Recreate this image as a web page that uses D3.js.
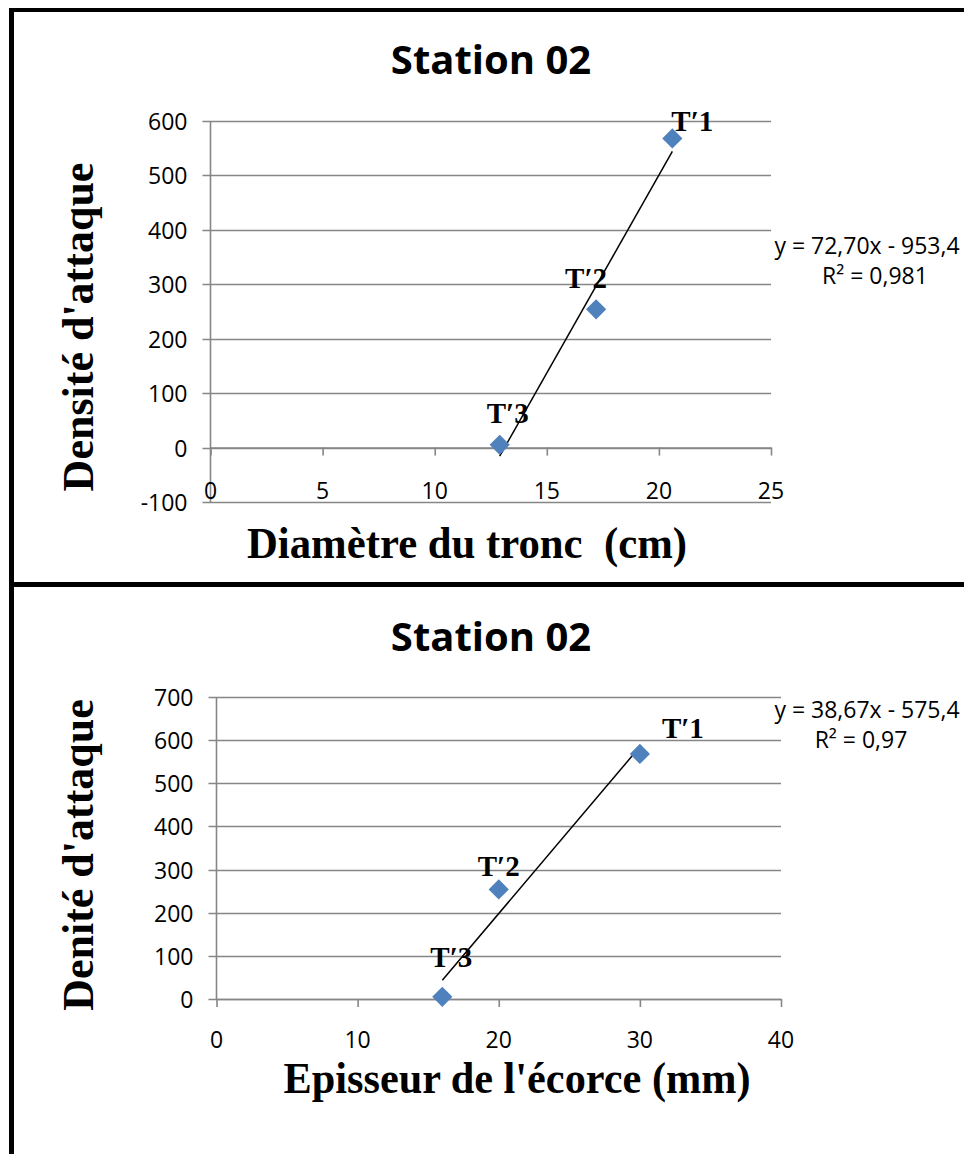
<!DOCTYPE html>
<html><head><meta charset="utf-8">
<script src="https://cdn.jsdelivr.net/npm/d3@7"></script>
<style>body{margin:0;background:#fff}svg{display:block}</style>
</head><body>
<script>
// ---- Data ----
const pointLabels = ["T\u20321", "T\u20322", "T\u20323"];
const density = [568, 254, 5];
const diameter = [20.6, 17.2, 12.9];
const barkThickness = [30, 20, 16];
const chartTitles = ["Station 02", "Station 02"];
const yTitles = ["Densité d'attaque", "Denité d'attaque"];
const xTitles = ["Diamètre du tronc  (cm)", "Episseur de l'écorce (mm)"];
const trendSlopes = [72.70, 38.67];
const trendIntercepts = [-953.4, -575.4];
const trendEquations = ["y = 72,70x - 953,4", "y = 38,67x - 575,4"];
const trendR2 = ["R² = 0,981", "R² = 0,97"];
const xTicks1 = [0, 5, 10, 15, 20, 25];
const yTicks1 = [-100, 0, 100, 200, 300, 400, 500, 600];
const xTicks2 = [0, 10, 20, 30, 40];
const yTicks2 = [0, 100, 200, 300, 400, 500, 600, 700];

const W = 964, H = 1154;
const svg = d3.select("body").append("svg").attr("width", W).attr("height", H);

// frame
const frame = svg.append("g").attr("stroke", "#000").attr("fill", "none");
frame.append("line").attr("x1", 11.5).attr("x2", 11.5).attr("y1", 8).attr("y2", H).attr("stroke-width", 5);
frame.append("line").attr("x1", 9).attr("x2", W).attr("y1", 10).attr("y2", 10).attr("stroke-width", 4);
frame.append("line").attr("x1", 9).attr("x2", W).attr("y1", 584.5).attr("y2", 584.5).attr("stroke-width", 5);

const sansFont = "'Open Sans', 'Liberation Sans', sans-serif";
const serifFont = "'Liberation Serif', 'DejaVu Serif', serif";

function drawChart(cfg) {
  const g = svg.append("g");
  const x = d3.scaleLinear().domain(cfg.xDomain).range(cfg.xRange);
  const y = d3.scaleLinear().domain(cfg.yDomain).range(cfg.yRange);
  const grid = "#868686";

  // horizontal gridlines (with ticks on the left)
  g.append("g").selectAll("line").data(cfg.yTicks).join("line")
    .attr("x1", cfg.xRange[0] - 8).attr("x2", cfg.xRange[1])
    .attr("y1", d => Math.round(y(d)) + 0.5).attr("y2", d => Math.round(y(d)) + 0.5)
    .attr("stroke", grid).attr("stroke-width", 1.6);

  // y axis
  g.append("line").attr("x1", x(0)).attr("x2", x(0))
    .attr("y1", y(cfg.yDomain[1])).attr("y2", y(cfg.yDomain[0]))
    .attr("stroke", grid).attr("stroke-width", 1.6);

  // x axis via d3 axis
  const xa = d3.axisBottom(x).tickValues(cfg.xTicks).tickSize(8).tickSizeOuter(0).tickFormat(d => "");
  const xg = g.append("g").attr("transform", `translate(0,${y(0)})`).call(xa);
  xg.select(".domain").attr("stroke", grid).attr("stroke-width", 1.6);
  xg.selectAll(".tick line").attr("stroke", grid).attr("stroke-width", 1.6);

  // x tick labels
  g.append("g").selectAll("text").data(cfg.xTicks).join("text")
    .attr("x", d => x(d)).attr("y", y(0) + cfg.xLabelOffset)
    .attr("text-anchor", "middle").attr("dominant-baseline", "central")
    .style("font-family", sansFont).style("font-size", "23px").attr("fill", "#000")
    .text(d => d);

  // y tick labels
  g.append("g").selectAll("text").data(cfg.yTicks).join("text")
    .attr("x", cfg.xRange[0] - 23).attr("y", d => y(d))
    .attr("text-anchor", "end").attr("dominant-baseline", "central")
    .style("font-family", sansFont).style("font-size", "23px").attr("fill", "#000")
    .text(d => d);

  // trendline
  const xs = d3.extent(cfg.xs);
  g.append("line")
    .attr("x1", x(xs[0])).attr("y1", y(cfg.slope * xs[0] + cfg.intercept))
    .attr("x2", x(xs[1])).attr("y2", y(cfg.slope * xs[1] + cfg.intercept))
    .attr("stroke", "#000").attr("stroke-width", 1.5);

  // points
  const sym = d3.symbol().type(d3.symbolDiamond2).size(260);
  g.append("g").selectAll("path").data(cfg.xs).join("path")
    .attr("d", sym)
    .attr("transform", (d, i) => `translate(${x(d)},${y(cfg.ys[i])})`)
    .attr("fill", "#4F81BD");

  // point labels
  g.append("g").selectAll("text").data(cfg.xs).join("text")
    .attr("x", (d, i) => x(d) + cfg.labelDx[i]).attr("y", (d, i) => y(cfg.ys[i]) + cfg.labelDy[i])
    .attr("text-anchor", "middle")
    .style("font-family", serifFont).style("font-weight", "bold").style("font-size", "29px")
    .text((d, i) => pointLabels[i]);

  // title
  g.append("text").attr("x", 491).attr("y", cfg.titleY).attr("text-anchor", "middle")
    .style("font-family", sansFont).style("font-weight", "bold").style("font-size", "40px")
    .text(cfg.title);

  // y title
  g.append("text").attr("transform", `translate(${cfg.yTitleX},${cfg.yTitleY}) rotate(-90)`)
    .attr("text-anchor", "middle")
    .style("font-family", serifFont).style("font-weight", "bold").style("font-size", "44px")
    .text(cfg.yTitle);

  // x title
  const xt = g.append("text").attr("x", cfg.xTitleX).attr("y", cfg.xTitleY).attr("text-anchor", "middle")
    .style("font-family", serifFont).style("font-weight", "bold").style("font-size", cfg.xTitleSize + "px")
    .style("white-space", "pre").attr("xml:space", "preserve")
    .text(cfg.xTitle);
  if (cfg.xTitleLen) xt.attr("textLength", cfg.xTitleLen).attr("lengthAdjust", "spacingAndGlyphs");

  // equation
  g.append("text").attr("x", cfg.eqX).attr("y", cfg.eqY).attr("text-anchor", "middle")
    .style("font-family", sansFont).style("font-size", "23px").text(cfg.eq);
  g.append("text").attr("x", cfg.r2X).attr("y", cfg.eqY + 30).attr("text-anchor", "middle")
    .style("font-family", sansFont).style("font-size", "23px").text(cfg.r2);
}

drawChart({
  xDomain: [0, 25], xRange: [210.5, 771], yDomain: [-100, 600], yRange: [502, 121],
  xTicks: xTicks1, yTicks: yTicks1, xLabelOffset: 42,
  xs: diameter, ys: density, slope: trendSlopes[0], intercept: trendIntercepts[0],
  labelDx: [20, -10, 8], labelDy: [-7, -21, -22],
  title: chartTitles[0], titleY: 74,
  yTitle: yTitles[0], yTitleX: 93, yTitleY: 327,
  xTitle: xTitles[0], xTitleX: 467, xTitleY: 558, xTitleSize: 44, xTitleLen: 440,
  eq: trendEquations[0], r2: trendR2[0], eqX: 867, eqY: 254, r2X: 875
});

drawChart({
  xDomain: [0, 40], xRange: [216.5, 781], yDomain: [0, 700], yRange: [999, 697],
  xTicks: xTicks2, yTicks: yTicks2, xLabelOffset: 40,
  xs: barkThickness, ys: density, slope: trendSlopes[1], intercept: trendIntercepts[1],
  labelDx: [43, 0, 9], labelDy: [-16, -13, -30],
  title: chartTitles[1], titleY: 651,
  yTitle: yTitles[1], yTitleX: 93, yTitleY: 855,
  xTitle: xTitles[1], xTitleX: 517, xTitleY: 1093, xTitleSize: 44, xTitleLen: 467,
  eq: trendEquations[1], r2: trendR2[1], eqX: 867, eqY: 718, r2X: 861
});
</script>
</body></html>
